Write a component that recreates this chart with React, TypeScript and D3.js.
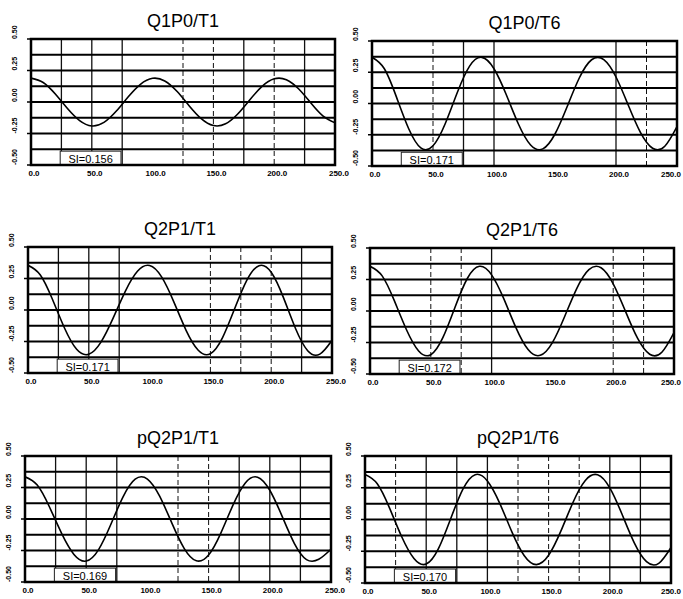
import React from 'react'
import * as d3 from 'd3'

const W = 683
const H = 599

const titles = ['Q1P0/T1', 'Q1P0/T6', 'Q2P1/T1', 'Q2P1/T6', 'pQ2P1/T1', 'pQ2P1/T6']
const siLabels = ['SI=0.156', 'SI=0.171', 'SI=0.171', 'SI=0.172', 'SI=0.169', 'SI=0.170']

// sample positions along the x axis (read every 10 units)
const sampleX = [0, 10, 20, 30, 40, 50, 60, 70, 80, 90, 100, 110, 120, 130, 140, 150, 160, 170, 180, 190, 200, 210, 220, 230, 240, 250]

const q1p0T1 = [0.19, 0.155, 0.063, -0.052, -0.148, -0.19, -0.162, -0.074, 0.041, 0.14, 0.188, 0.167, 0.085, -0.029, -0.132, -0.187, -0.173, -0.095, 0.018, 0.124, 0.184, 0.177, 0.105, -0.006, -0.11, -0.165]
const q1p0T6 = [0.37, 0.28, 0.053, -0.2, -0.355, -0.338, -0.162, 0.09, 0.299, 0.369, 0.278, 0.072, -0.164, -0.332, -0.363, -0.244, -0.024, 0.206, 0.35, 0.351, 0.212, -0.012, -0.231, -0.358, -0.342, -0.185]
const q2p1T1 = [0.355, 0.28, 0.087, -0.143, -0.312, -0.351, -0.255, -0.065, 0.148, 0.307, 0.353, 0.261, 0.063, -0.161, -0.319, -0.347, -0.219, 0.012, 0.238, 0.352, 0.299, 0.1, -0.147, -0.323, -0.35, -0.24]
const q2p1T6 = [0.355, 0.279, 0.082, -0.149, -0.317, -0.347, -0.21, 0.032, 0.258, 0.355, 0.287, 0.098, -0.132, -0.306, -0.352, -0.251, -0.046, 0.178, 0.328, 0.343, 0.216, 0.0, -0.216, -0.343, -0.327, -0.171]
const pq2p1T1 = [0.335, 0.269, 0.095, -0.116, -0.281, -0.334, -0.245, -0.046, 0.174, 0.316, 0.317, 0.181, -0.033, -0.233, -0.332, -0.286, -0.112, 0.112, 0.286, 0.332, 0.228, 0.023, -0.193, -0.322, -0.32, -0.24]
const pq2p1T6 = [0.355, 0.282, 0.092, -0.136, -0.307, -0.351, -0.23, 0.006, 0.239, 0.353, 0.303, 0.129, -0.097, -0.283, -0.355, -0.282, -0.092, 0.136, 0.307, 0.352, 0.249, 0.041, -0.184, -0.332, -0.345, -0.22]

const series = [q1p0T1, q1p0T6, q2p1T1, q2p1T6, pq2p1T1, pq2p1T6]

const xTicks = [0, 50, 100, 150, 200, 250]
const yTicks = [0.5, 0.25, 0, -0.25, -0.5]
const xGrid = [25, 50, 75, 100, 125, 150, 175, 200, 225]
const yGrid = [0.375, 0.25, 0.125, 0, -0.125, -0.25, -0.375]

// panel frames on the page
const frames = [
  { x: 31, y: 39, w: 304, h: 126 },
  { x: 372, y: 41, w: 305, h: 125 },
  { x: 28, y: 247, w: 304, h: 126 },
  { x: 370, y: 248, w: 304, h: 126 },
  { x: 25, y: 456, w: 306, h: 126 },
  { x: 365, y: 456, w: 306, h: 127 }
]

// how each vertical grid line came out on the scan: s solid, d dashed, n missing
const vStyles = [
  'sssnddsds',
  'ndssnnnsd',
  'sssnnddds',
  'nddsnnndd',
  'sssnddsss',
  'dsssdddss'
]

const font = '"Liberation Sans", Arial, sans-serif'

function Panel({ i }) {
  const f = frames[i]
  const x = d3.scaleLinear().domain([0, 250]).range([f.x, f.x + f.w])
  const y = d3.scaleLinear().domain([-0.5, 0.5]).range([f.y + f.h, f.y])
  const pts = sampleX.map((v, k) => [v, series[i][k]])
  const line = d3.line()
    .x(d => x(d[0]))
    .y(d => y(d[1]))
    .curve(d3.curveNatural)

  return (
    <g>
      <clipPath id={'clip' + i}>
        <rect x={f.x} y={f.y} width={f.w} height={f.h} />
      </clipPath>
      {xGrid.map((v, k) => {
        const st = vStyles[i][k]
        if (st === 'n') return null
        return (
          <line key={'v' + k} x1={x(v)} x2={x(v)} y1={f.y} y2={f.y + f.h}
            stroke="#111" strokeWidth={st === 's' ? 1.3 : 1}
            strokeDasharray={st === 'd' ? '5,3' : null} />
        )
      })}
      {yGrid.map((v, k) => (
        <line key={'h' + k} x1={f.x} x2={f.x + f.w} y1={y(v)} y2={y(v)}
          stroke="#000" strokeWidth={2} />
      ))}
      <path d={line(pts)} fill="none" stroke="#000" strokeWidth={1.6}
        clipPath={`url(#clip${i})`} />
      <rect x={x(24)} y={y(-0.39)} width={x(74) - x(24)} height={y(-0.5) - y(-0.39)}
        fill="#fff" stroke="#222" strokeWidth={1} />
      <text x={(x(24) + x(74)) / 2} y={y(-0.5) - 2.5} textAnchor="middle"
        fontFamily={font} fontSize={11} fill="#000">{siLabels[i]}</text>
      <rect x={f.x} y={f.y} width={f.w} height={f.h} fill="none"
        stroke="#000" strokeWidth={2.5} />
      {yTicks.map((v, k) => (
        <g key={'yt' + k}>
          <line x1={f.x - 4} x2={f.x} y1={y(v)} y2={y(v)} stroke="#000" strokeWidth={1.5} />
          <text transform={`translate(${f.x - 16},${y(v)}) rotate(-90)`} dy="0.35em"
            textAnchor="start" fontFamily={font} fontSize={7} fontWeight="bold">
            {v.toFixed(2)}
          </text>
        </g>
      ))}
      {xTicks.map((v, k) => {
        const last = k === xTicks.length - 1
        const tx = last ? Math.min(x(v) + 14, W - 2) : x(v) + 3
        return (
          <text key={'xt' + k} x={tx} y={f.y + f.h + 11} textAnchor={last ? 'end' : 'middle'}
            fontFamily={font} fontSize={8} fontWeight="bold">
            {v.toFixed(1)}
          </text>
        )
      })}
      <text x={f.x + f.w / 2} y={f.y - 12} textAnchor="middle"
        fontFamily={font} fontSize={18} fill="#000">{titles[i]}</text>
    </g>
  )
}

export default function App() {
  return (
    <svg width={W} height={H} style={{ position: 'absolute', left: 0, top: 0, background: '#fff' }}>
      <rect width={W} height={H} fill="#fff" />
      {frames.map((_, i) => <Panel key={i} i={i} />)}
    </svg>
  )
}
